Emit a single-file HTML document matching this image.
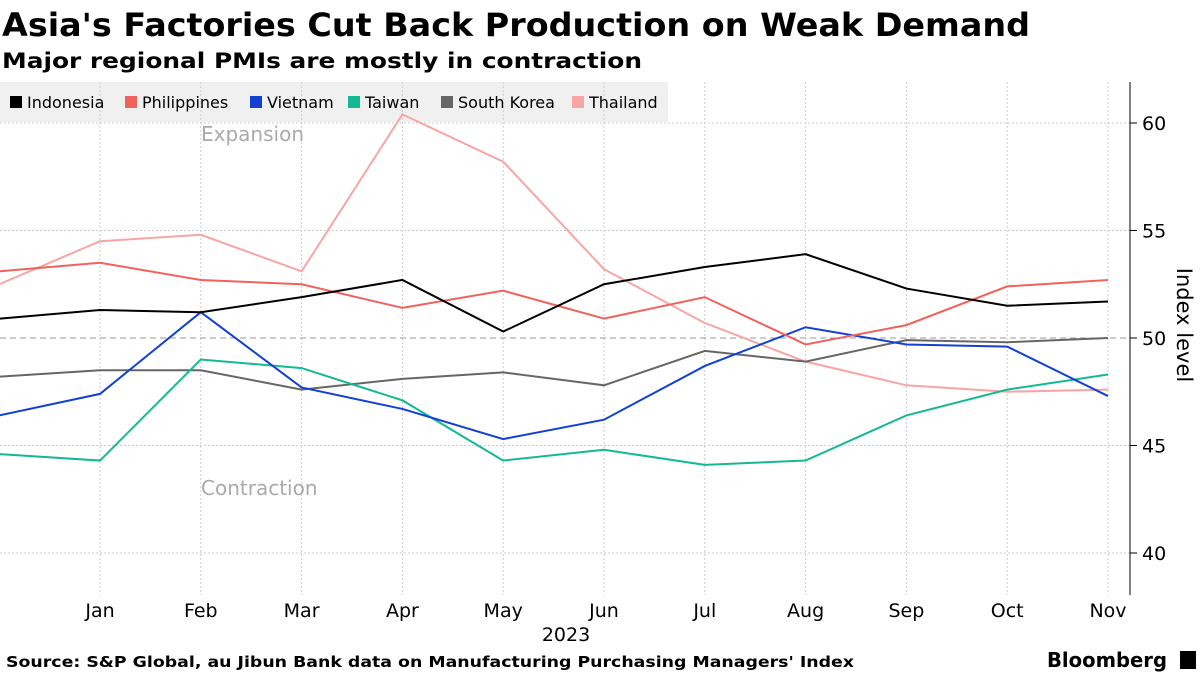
<!DOCTYPE html>
<html><head><meta charset="utf-8"><style>
body{margin:0;width:1200px;height:675px;background:#fff;font-family:"DejaVu Sans","Liberation Sans",sans-serif;overflow:hidden}
</style></head><body>
<svg width="1200" height="675" xmlns="http://www.w3.org/2000/svg" font-family="DejaVu Sans, Liberation Sans, sans-serif">
<text x="2" y="36" font-size="32" font-weight="bold" fill="#000" textLength="1028" lengthAdjust="spacingAndGlyphs">Asia's Factories Cut Back Production on Weak Demand</text>
<text x="2" y="68" font-size="21" font-weight="bold" fill="#000" textLength="640" lengthAdjust="spacingAndGlyphs">Major regional PMIs are mostly in contraction</text>
<rect x="0" y="82" width="668" height="40" fill="#f0f0f0"/>
<g id="grid"></g>
<g id="series"></g>
<g id="axes"></g>
<text x="201" y="141" font-size="20" fill="#aaa">Expansion</text>
<text x="201" y="495" font-size="20" fill="#aaa">Contraction</text>
<g id="legend"></g>
<text x="566" y="641" font-size="19" text-anchor="middle" fill="#000">2023</text>
<text transform="translate(1177,325) rotate(90)" font-size="21" text-anchor="middle" fill="#000">Index level</text>
<text x="6" y="667" font-size="15" font-weight="bold" fill="#000" textLength="848" lengthAdjust="spacingAndGlyphs">Source: S&amp;P Global, au Jibun Bank data on Manufacturing Purchasing Managers' Index</text>
<text x="1047" y="667" font-size="20" font-weight="bold" fill="#000" textLength="120" lengthAdjust="spacingAndGlyphs">Bloomberg</text>
<rect x="1180" y="651" width="16" height="18" fill="#000"/>
</svg>
<script>
const months=["Dec","Jan","Feb","Mar","Apr","May","Jun","Jul","Aug","Sep","Oct","Nov"];
const yTicks=[40,45,50,55,60];
const seriesNames=["Indonesia","Philippines","Vietnam","Taiwan","South Korea","Thailand"];
const seriesColors=["#000000","#f0625c","#1240d2","#14b994","#666666","#f7a5a5"];
const indonesia=[50.9,51.3,51.2,51.9,52.7,50.3,52.5,53.3,53.9,52.3,51.5,51.7];
const philippines=[53.1,53.5,52.7,52.5,51.4,52.2,50.9,51.9,49.7,50.6,52.4,52.7];
const vietnam=[46.4,47.4,51.2,47.7,46.7,45.3,46.2,48.7,50.5,49.7,49.6,47.3];
const taiwan=[44.6,44.3,49.0,48.6,47.1,44.3,44.8,44.1,44.3,46.4,47.6,48.3];
const southKorea=[48.2,48.5,48.5,47.6,48.1,48.4,47.8,49.4,48.9,49.9,49.8,50.0];
const thailand=[52.5,54.5,54.8,53.1,60.4,58.2,53.2,50.7,48.9,47.8,47.5,47.6];
const allSeries=[indonesia,philippines,vietnam,taiwan,southKorea,thailand];
const NS="http://www.w3.org/2000/svg";
const x=i=>-0.8+i*100.8;
const y=v=>338-(v-50)*21.5;
function mk(t,a,p){const e=document.createElementNS(NS,t);for(const k in a)e.setAttribute(k,a[k]);p.appendChild(e);return e;}
const grid=document.getElementById('grid'),axes=document.getElementById('axes'),ser=document.getElementById('series'),leg=document.getElementById('legend');
months.forEach((m,i)=>{
  if(i>0){const l=mk('line',{x1:x(i),x2:x(i),y1:82,y2:595,stroke:'#ccc','stroke-dasharray':'2,2'},grid);
  
  
  const t=mk('text',{x:x(i),y:617,'font-size':19,'text-anchor':'middle',fill:'#000'},axes);t.textContent=m;
  
  }
});
yTicks.forEach(v=>{
  const l=mk('line',{x1:0,x2:1130,y1:y(v),y2:y(v),stroke:v===50?'#999':'#ccc','stroke-dasharray':v===50?'6,4':'2,2'},grid);
  
  
  const tk=mk('line',{x1:1130,x2:1137,y1:y(v),y2:y(v),stroke:'#000'},axes);
  
  
  const t=mk('text',{x:1142,y:y(v)+7,'font-size':19,fill:'#000'},axes);t.textContent=v;
  
  
});
const ax=mk('line',{x1:1130,x2:1130,y1:82,y2:595,stroke:'#000'},axes);


[5,4,3,2,1,0].forEach(s=>{
  const p=mk('polyline',{points:allSeries[s].map((v,i)=>x(i)+','+y(v)).join(' '),fill:'none',stroke:seriesColors[s],'stroke-width':2},ser);
  
  
});
const lx=[10,125,250,348,441,572];
seriesNames.forEach((n,i)=>{
  const r=mk('rect',{x:lx[i],y:96,width:12,height:12,fill:seriesColors[i]},leg);
  
  
  const t=mk('text',{x:lx[i]+17,y:108,'font-size':16,fill:'#000'},leg);t.textContent=n;
  
  
});
</script>
</body></html>
